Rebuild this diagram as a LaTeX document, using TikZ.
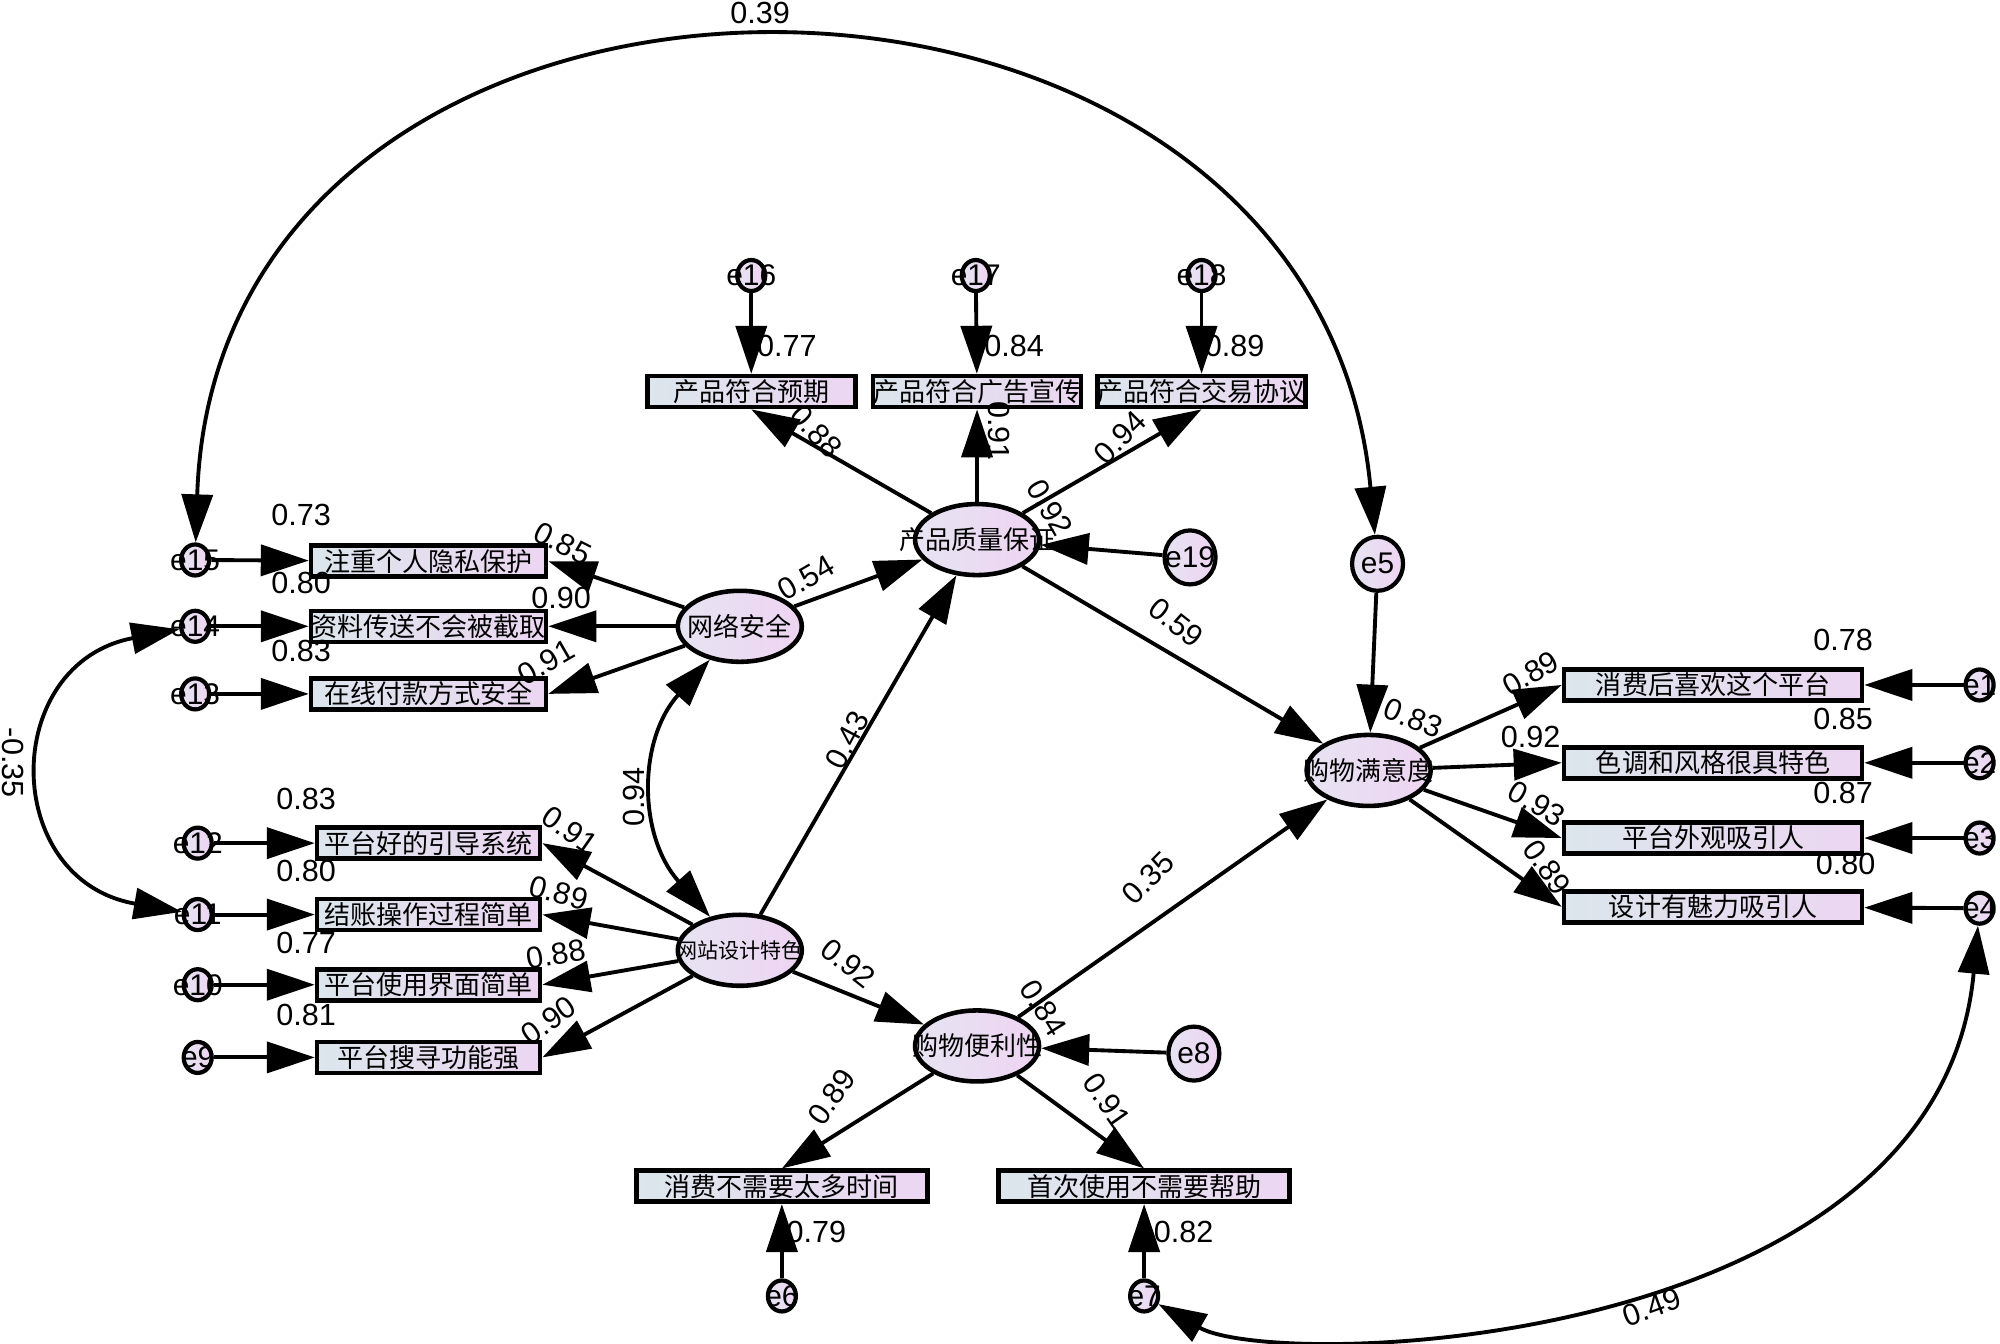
\documentclass[tikz,border=0pt]{standalone}
\usepackage{fontspec}
\setmainfont{Liberation Sans}
\newfontfamily\cjk{Noto Sans CJK SC}
\usetikzlibrary{arrows.meta, shapes.geometric}
\definecolor{BoxLeft}{RGB}{220,230,236}
\definecolor{BoxRight}{RGB}{236,214,242}
\definecolor{OvalLeft}{RGB}{230,228,242}
\definecolor{OvalRight}{RGB}{238,212,242}
\tikzset{
  obs/.style={draw, line width=1.3pt, left color=BoxLeft, right color=BoxRight,
    minimum height=3.1mm, inner sep=0pt, font=\cjk\fontsize{7.4}{8}\selectfont},
  lat/.style={ellipse, draw, line width=1.3pt, left color=OvalLeft, right color=OvalRight,
    minimum width=12.4mm, minimum height=7.1mm, inner sep=0pt,
    label={[font=\cjk\fontsize{7.4}{8}\selectfont]center:#1}},
  err/.style={ellipse, draw, line width=1.2pt, left color=OvalLeft, right color=OvalRight,
    minimum width=2.8mm, minimum height=3.1mm, inner sep=0pt,
    label={[font=\fontsize{8.5}{9}\selectfont]center:#1}},
  bigerr/.style={err=#1, minimum width=5.1mm, minimum height=5.4mm},
  reg/.style={-{Triangle[length=4.8mm,width=3.1mm]}, line width=1.1pt},
  cov/.style={{Triangle[length=4.8mm,width=3.1mm]}-{Triangle[length=4.8mm,width=3.1mm]}, line width=1.1pt},
  num/.style={font=\fontsize{8.7}{9}\selectfont, inner sep=0pt},
}

\begin{document}
\begin{tikzpicture}[x=0.12755mm, y=-0.12755mm]
  \useasboundingbox (0,0) rectangle (1568,1053);

  % 产品质量保证
  \node[err=e16] (e16) at (589,216) {};
  \node[err=e17] (e17) at (765,216) {};
  \node[err=e18] (e18) at (942,216) {};
  \node[obs, minimum width=20.8mm] (q1) at (589,307) {产品符合预期};
  \node[obs, minimum width=20.8mm] (q2) at (766,307) {产品符合广告宣传};
  \node[obs, minimum width=20.8mm] (q3) at (942,307) {产品符合交易协议};
  \node[lat=产品质量保证] (quality) at (766,423) {};
  \node[bigerr=e19] (e19) at (933,437) {};

  % 网络安全
  \node[err=e15] (e15) at (153,439) {};
  \node[err=e14] (e14) at (153,491) {};
  \node[err=e13] (e13) at (153,544) {};
  \node[obs, minimum width=23.5mm] (s1) at (336,440) {注重个人隐私保护};
  \node[obs, minimum width=23.5mm] (s2) at (336,491) {资料传送不会被截取};
  \node[obs, minimum width=23.5mm] (s3) at (336,544) {在线付款方式安全};
  \node[lat=网络安全] (security) at (580,491) {};

  % 网站设计特色
  \node[err=e12] (e12) at (155,661) {};
  \node[err=e11] (e11) at (155,717) {};
  \node[err=e10] (e10) at (155,772) {};
  \node[err=e9] (e9) at (155,829) {};
  \node[obs, minimum width=22.3mm] (d1) at (336,661) {平台好的引导系统};
  \node[obs, minimum width=22.3mm] (d2) at (336,717) {结账操作过程简单};
  \node[obs, minimum width=22.3mm] (d3) at (336,772) {平台使用界面简单};
  \node[obs, minimum width=22.3mm] (d4) at (336,829) {平台搜寻功能强};
  \node[lat={\fontsize{6}{7}\selectfont 网站设计特色}] (design) at (580,745) {};

  % 购物便利性
  \node[lat=购物便利性] (convenience) at (766,820) {};
  \node[bigerr=e8] (e8) at (936,826) {};
  \node[obs, minimum width=29.1mm] (c1) at (613,930) {消费不需要太多时间};
  \node[obs, minimum width=29.1mm] (c2) at (897,930) {首次使用不需要帮助};
  \node[err=e6] (e6) at (613,1016) {};
  \node[err=e7] (e7) at (897,1016) {};

  % 购物满意度
  \node[lat=购物满意度] (satisfaction) at (1073,604) {};
  \node[bigerr=e5] (e5) at (1080,442) {};
  \node[obs, minimum width=29.8mm] (f1) at (1343,537) {消费后喜欢这个平台};
  \node[obs, minimum width=29.8mm] (f2) at (1343,598) {色调和风格很具特色};
  \node[obs, minimum width=29.8mm] (f3) at (1343,657) {平台外观吸引人};
  \node[obs, minimum width=29.8mm] (f4) at (1343,711) {设计有魅力吸引人};
  \node[err=e1] (e1) at (1552,537) {};
  \node[err=e2] (e2) at (1552,598) {};
  \node[err=e3] (e3) at (1552,657) {};
  \node[err=e4] (e4) at (1552,712) {};

  % 路径
  \draw[reg] (e16) -- (q1);
  \draw[reg] (e17) -- (q2);
  \draw[reg] (e18) -- (q3);
  \draw[reg] (quality) -- (q1.south);
  \draw[reg] (quality) -- (q2.south);
  \draw[reg] (quality) -- (q3.south);
  \draw[reg] (e19) -- (quality);
  \draw[reg] (e15) -- (s1);
  \draw[reg] (e14) -- (s2);
  \draw[reg] (e13) -- (s3);
  \draw[reg] (security) -- (s1.east);
  \draw[reg] (security) -- (s2.east);
  \draw[reg] (security) -- (s3.east);
  \draw[reg] (e12) -- (d1);
  \draw[reg] (e11) -- (d2);
  \draw[reg] (e10) -- (d3);
  \draw[reg] (e9) -- (d4);
  \draw[reg] (design) -- (d1.east);
  \draw[reg] (design) -- (d2.east);
  \draw[reg] (design) -- (d3.east);
  \draw[reg] (design) -- (d4.east);
  \draw[reg] (security) -- (quality);
  \draw[reg] (design) -- (quality);
  \draw[reg] (design) -- (convenience);
  \draw[reg] (e8) -- (convenience);
  \draw[reg] (convenience) -- (c1.north);
  \draw[reg] (convenience) -- (c2.north);
  \draw[reg] (e6) -- (c1);
  \draw[reg] (e7) -- (c2);
  \draw[reg] (quality) -- (satisfaction);
  \draw[reg] (convenience) -- (satisfaction);
  \draw[reg] (e5) -- (satisfaction);
  \draw[reg] (satisfaction) -- (f1.west);
  \draw[reg] (satisfaction) -- (f2.west);
  \draw[reg] (satisfaction) -- (f3.west);
  \draw[reg] (satisfaction) -- (f4.west);
  \draw[reg] (e1) -- (f1);
  \draw[reg] (e2) -- (f2);
  \draw[reg] (e3) -- (f3);
  \draw[reg] (e4) -- (f4);

  % 相关
  \draw[cov] (e15) .. controls (170,-95) and (1030,-95) .. (e5);
  \draw[cov] (e14) .. controls (0,520) and (0,690) .. (e11);
  \draw[cov] (security) .. controls (500,580) and (500,655) .. (design);
  \draw[cov] (e7) .. controls (1000,1075) and (1520,1060) .. (e4);

  % 系数
  \node[num] (r39) at (596,10) {0.39};
  \node[num, rotate=-90] (r35) at (10,598) {-0.35};
  \node[num, rotate=90] (r94) at (497,625) {0.94};
  \node[num, rotate=20] (r49) at (1295,1025) {0.49};

  \node[num] (v16) at (617,271) {0.77};
  \node[num] (v17) at (795,271) {0.84};
  \node[num] (v18) at (968,271) {0.89};
  \node[num, rotate=-48] (l1) at (640,338) {0.88};
  \node[num, rotate=-90] (l2) at (783,338) {0.91};
  \node[num, rotate=45] (l3) at (878,343) {0.94};
  \node[num, rotate=-60] (vq) at (823,398) {0.92};

  \node[num] (v15) at (236,404) {0.73};
  \node[num] (v14) at (236,457) {0.80};
  \node[num] (v13) at (236,510) {0.83};
  \node[num, rotate=-27] (l4) at (441,426) {0.85};
  \node[num] (l5) at (440,469) {0.90};
  \node[num, rotate=30] (l6) at (428,519) {0.91};

  \node[num] (v12) at (240,626) {0.83};
  \node[num] (v11) at (240,683) {0.80};
  \node[num] (v10) at (240,739) {0.77};
  \node[num] (v9) at (240,796) {0.81};
  \node[num, rotate=-35] (l7) at (447,651) {0.91};
  \node[num, rotate=-15] (l8) at (438,700) {0.89};
  \node[num, rotate=10] (l9) at (436,748) {0.88};
  \node[num, rotate=35] (l10) at (430,800) {0.90};

  \node[num, rotate=30] (p1) at (632,453) {0.54};
  \node[num, rotate=62] (p2) at (664,580) {0.43};
  \node[num, rotate=-38] (p3) at (922,488) {0.59};
  \node[num, rotate=-38] (p4) at (665,755) {0.92};
  \node[num, rotate=45] (p5) at (900,688) {0.35};
  \node[num, rotate=-58] (vc) at (818,790) {0.84};

  \node[num, rotate=55] (l11) at (652,860) {0.89};
  \node[num, rotate=-55] (l12) at (868,863) {0.91};
  \node[num] (v6) at (640,966) {0.79};
  \node[num] (v7) at (928,966) {0.82};

  \node[num, rotate=-22] (vs) at (1108,563) {0.83};
  \node[num, rotate=30] (l13) at (1200,528) {0.89};
  \node[num] (l14) at (1200,578) {0.92};
  \node[num, rotate=-30] (l15) at (1205,630) {0.93};
  \node[num, rotate=-55] (l16) at (1213,680) {0.89};
  \node[num] (v1) at (1445,502) {0.78};
  \node[num] (v2) at (1445,564) {0.85};
  \node[num] (v3) at (1445,622) {0.87};
  \node[num] (v4) at (1447,677) {0.80};
\end{tikzpicture}
\end{document}
